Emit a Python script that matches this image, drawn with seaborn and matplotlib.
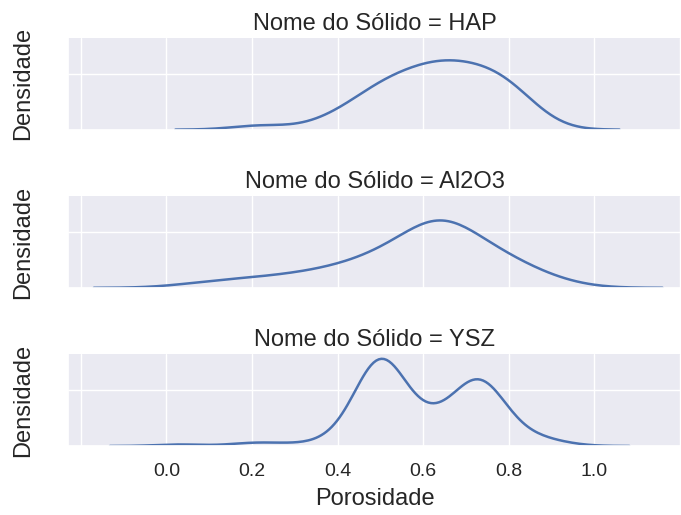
import numpy as np
import pandas as pd
import seaborn as sns
import matplotlib
matplotlib.use("Agg")
import matplotlib.pyplot as plt

# Porosity measurements per solid, as (value, number of samples)
solids = ["HAP", "Al2O3", "YSZ"]

hap_values = [0.22, 0.37, 0.41, 0.44, 0.47, 0.50, 0.53, 0.56, 0.59, 0.62, 0.65, 0.68, 0.71,
              0.74, 0.77, 0.80, 0.83, 0.86]
hap_counts = [1, 1, 1, 1, 2, 3, 2, 3, 3, 3, 4, 3, 3,
              3, 3, 3, 2, 1]

al2o3_values = [0.07, 0.13, 0.18, 0.22, 0.26, 0.29, 0.32, 0.35, 0.38, 0.41, 0.44, 0.47, 0.50, 0.53,
                0.56, 0.59, 0.62, 0.64, 0.66, 0.69, 0.72, 0.75, 0.78, 0.81, 0.84, 0.88, 0.92]
al2o3_counts = [1, 1, 1, 1, 1, 1, 1, 1, 2, 1, 2, 2, 3, 3,
                3, 3, 5, 8, 5, 3, 3, 3, 3, 2, 2, 1, 1]

ysz_values = [0.03, 0.19, 0.22, 0.29, 0.37, 0.41, 0.44, 0.46, 0.48, 0.50, 0.52, 0.54, 0.57, 0.60,
              0.63, 0.66, 0.69, 0.71, 0.73, 0.75, 0.77, 0.81, 0.84, 0.88, 0.92]
ysz_counts = [1, 1, 1, 1, 1, 3, 2, 4, 13, 22, 13, 5, 4, 5,
              5, 4, 5, 9, 14, 10, 6, 3, 2, 2, 1]

frames = []
for name, vals, cnts in [("HAP", hap_values, hap_counts),
                         ("Al2O3", al2o3_values, al2o3_counts),
                         ("YSZ", ysz_values, ysz_counts)]:
    frames.append(pd.DataFrame({"Nome do Sólido": name,
                                "Porosidade": np.repeat(vals, cnts)}))
df = pd.concat(frames, ignore_index=True)

sns.set_theme(style="darkgrid", font="Liberation Sans")
plt.rcParams["font.family"] = ["Liberation Sans", "DejaVu Sans"]
plt.rcParams["axes.titlesize"] = 17
plt.rcParams["axes.labelsize"] = 17
plt.rcParams["axes.labelpad"] = 5.5
plt.rcParams["xtick.labelsize"] = 14
plt.rcParams["ytick.labelsize"] = 14
plt.rcParams["xtick.major.pad"] = 6.5

g = sns.FacetGrid(df, row="Nome do Sólido", row_order=solids, height=1.6, aspect=4)
g.map(sns.kdeplot, "Porosidade", linewidth=1.8)
g.set_axis_labels("Porosidade", "Densidade")
g.set_titles("{row_var} = {row_name}")

for ax in g.axes.flat:
    ax.set_yticklabels([])
    ax.set_xlim(-0.23, 1.203)
    ax.yaxis.set_label_coords(-0.055, 0.5)
g.axes[-1, 0].set_xticks([0.0, 0.2, 0.4, 0.6, 0.8, 1.0])
g.axes[-1, 0].set_xticks([-0.2, 1.2], minor=True)
for ax in g.axes.flat:
    ax.grid(True, which="minor", color="white", linewidth=1)

g.figure.set_size_inches(6.81, 5.15)
g.figure.subplots_adjust(left=0.1, right=1.0, top=0.926, bottom=0.134, hspace=0.728)
g.figure.savefig("out.png", dpi=100)
